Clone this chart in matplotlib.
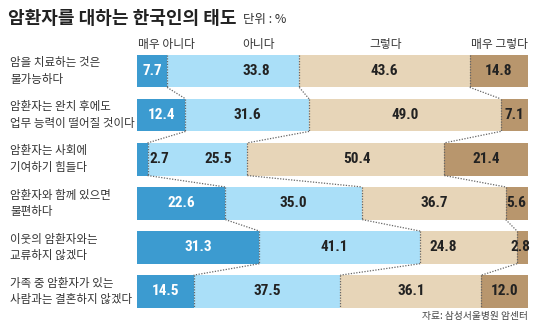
import matplotlib
matplotlib.use('Agg')
import matplotlib.pyplot as plt
import numpy as np

plt.rcParams['font.family'] = ['Noto Sans CJK KR', 'DejaVu Sans']

# ---------------------------- 데이터 ---------------------------- #
title = '암환자를 대하는 한국인의 태도'
unit = '단위 : %'
source = '자료: 삼성서울병원 암센터'

categories = ['매우 아니다', '아니다', '그렇다', '매우 그렇다']
questions = [
    '암을 치료하는 것은\n불가능하다',
    '암환자는 완치 후에도\n업무 능력이 떨어질 것이다',
    '암환자는 사회에\n기여하기 힘들다',
    '암환자와 함께 있으면\n불편하다',
    '이웃의 암환자와는\n교류하지 않겠다',
    '가족 중 암환자가 있는\n사람과는 결혼하지 않겠다',
]
very_no = [7.7, 12.4, 2.7, 22.6, 31.3, 14.5]
no = [33.8, 31.6, 25.5, 35.0, 41.1, 37.5]
yes = [43.6, 49.0, 50.4, 36.7, 24.8, 36.1]
very_yes = [14.8, 7.1, 21.4, 5.6, 2.8, 12.0]

colors = ['#3c9bd0', '#aadff8', '#e7d5b8', '#b8966d']
text_colors = ['white', '#222222', '#222222', '#222222']
num_font = ['Roboto Condensed', 'PT Sans Narrow', 'Liberation Sans', 'DejaVu Sans']

# 라벨 미세 위치 조정 (행, 구간) -> x 이동량(%)
label_nudge = {(0, 1): 6.0, (2, 1): 5.4, (2, 2): 2.8, (4, 1): -1.5, (4, 2): -6.4, (4, 3): -0.6}

# ---------------------------- 그리기 ---------------------------- #
fig = plt.figure(figsize=(5.4, 3.28), dpi=100)
ax = fig.add_axes([137 / 540, 1 - 313.5 / 328, 391 / 540, 264.5 / 328])

data = np.array([very_no, no, yes, very_yes]).T
n = len(questions)
h = 0.74
y = np.arange(n)
left = np.zeros(n)
cum = []
for j in range(4):
    ax.barh(y, data[:, j], left=left, height=h, color=colors[j], linewidth=0)
    for i in range(n):
        v = data[i, j]
        cx = left[i] + v / 2 + label_nudge.get((i, j), 0)
        if j == 0 and v < 5:
            ax.text(left[i] + v + 0.6, i, f'{v:.1f}', ha='left', va='center',
                    fontsize=11, fontweight='bold', color='#222222', family=num_font)
        else:
            ax.text(cx, i, f'{v:.1f}', ha='center', va='center', fontsize=11,
                    fontweight='bold', color=text_colors[j], family=num_font)
    left = left + data[:, j]
    cum.append(left.copy())

# 구간 경계 점선 + 행 사이 연결선
dot = dict(color='#666666', linestyle=(0, (1, 1.2)), linewidth=0.9)
for k in range(3):
    b = cum[k]
    for i in range(n):
        ax.plot([b[i], b[i]], [i - h / 2, i + h / 2], **dot)
        if i < n - 1:
            ax.plot([b[i], b[i + 1]], [i + h / 2, i + 1 - h / 2], **dot)

ax.set_xlim(0, 100)
ax.set_ylim(n - 0.5, -0.5)
ax.axis('off')

# 범주 머리글
hy = -0.5 - 5 / 44.1
ax.text(0.2, hy, categories[0], ha='left', va='center', fontsize=8.5, color='#333333')
ax.text(31.2, hy, categories[1], ha='center', va='center', fontsize=8.5, color='#333333')
ax.text(63.7, hy, categories[2], ha='center', va='center', fontsize=8.5, color='#333333')
ax.text(100, hy, categories[3], ha='right', va='center', fontsize=8.5, color='#333333')

# 문항
for i, q in enumerate(questions):
    fig.text(10 / 540, 1 - (71 + i * 44.1) / 328, q, ha='left', va='center',
             fontsize=8.3, color='#333333', linespacing=1.35)

fig.text(8 / 540, 1 - 19 / 328, title, ha='left', va='center', fontsize=13,
         fontweight='bold', color='#222222')
fig.text(243 / 540, 1 - 20 / 328, unit, ha='left', va='center', fontsize=9, color='#333333')
fig.text(528 / 540, 1 - 316 / 328, source, ha='right', va='center', fontsize=7, color='#444444')

plt.savefig('out.png', dpi=100)
plt.close()
